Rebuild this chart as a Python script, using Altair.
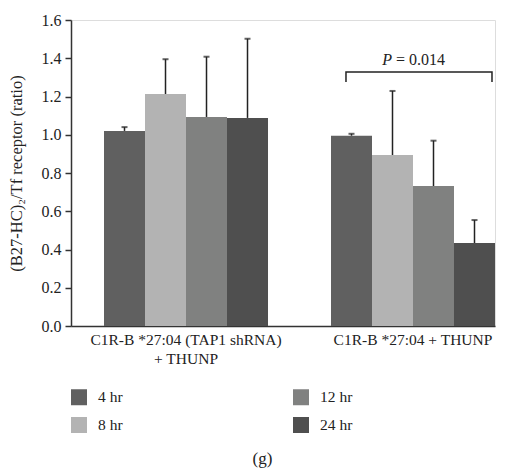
import altair as alt
import pandas as pd

groups = ["C1R-B *27:04 (TAP1 shRNA)|+ THUNP", "C1R-B *27:04 + THUNP"]
times = ["4 hr", "8 hr", "12 hr", "24 hr"]
colors = ["#606060", "#b3b3b3", "#808180", "#4f4f4f"]
means_g1 = [1.02, 1.213, 1.093, 1.088]
means_g2 = [0.995, 0.894, 0.732, 0.434]
upper_g1 = [1.04, 1.395, 1.408, 1.502]
upper_g2 = [1.005, 1.229, 0.969, 0.554]
y_ticks = [0.0, 0.2, 0.4, 0.6, 0.8, 1.0, 1.2, 1.4, 1.6]
bracket_ends = ["start", "start", "end", "end"]
bracket_y = [1.276, 1.328, 1.328, 1.276]
p_level = 1.39

FONT = "Liberation Serif"

rows = []
for g, means, ups in [(groups[0], means_g1, upper_g1), (groups[1], means_g2, upper_g2)]:
    for t, m, u in zip(times, means, ups):
        rows.append({"group": g, "time": t, "mean": m, "upper": u})
df = pd.DataFrame(rows)

bracket = pd.DataFrame({"group": [groups[1]] * 4, "end": bracket_ends,
                        "y": bracket_y, "ord": [0, 1, 2, 3]})
ptext = pd.DataFrame({"group": [groups[1]], "y": [p_level]})

x_axis = alt.Axis(title="(g)", labelExpr="split(datum.label, '|')", labelAngle=0,
                  ticks=False, labelPadding=6, labelFont=FONT, labelFontSize=15.5,
                  labelColor="#222", domainColor="#333", domainWidth=1.5,
                  labelLineHeight=19, labelLimit=400,
                  titleFont=FONT, titleFontSize=17, titleFontWeight="normal", titleColor="#222",
                  titlePadding=84, titleX=191, titleAnchor="middle")
x_enc = alt.X("group:N", sort=groups,
              scale=alt.Scale(domain=groups, paddingInner=0.2775, paddingOuter=0.0727, align=1),
              axis=x_axis)
xo_enc = alt.XOffset("time:N", sort=times,
                     scale=alt.Scale(domain=times, paddingInner=0, paddingOuter=0))
y_scale = alt.Scale(domain=[0, 1.6], nice=False)
y_axis = alt.Axis(title="(B27-HC)₂/Tf receptor (ratio)", values=y_ticks,
                  format=".1f", grid=False, tickSize=6, tickColor="#333", tickWidth=1.5,
                  domainColor="#333", domainWidth=1.5, labelFont=FONT, labelFontSize=16,
                  labelColor="#222", labelPadding=4, labelOverlap=False, titleFont=FONT,
                  titleFontSize=16.5, titleFontWeight="normal", titleColor="#222",
                  titlePadding=17)


def yq(field):
    return alt.Y(field, type="quantitative", scale=y_scale, axis=y_axis)


bars = alt.Chart(df).mark_bar(stroke=None).encode(
    x=x_enc,
    xOffset=xo_enc,
    y=yq("mean"),
    color=alt.Color("time:N", scale=alt.Scale(domain=times, range=colors),
                    legend=alt.Legend(title=None, orient="none", legendX=0, legendY=369, columns=2,
                                      columnPadding=170, rowPadding=11, symbolType="square",
                                      symbolSize=256, symbolStrokeWidth=0, labelFont=FONT,
                                      labelFontSize=15.5, labelColor="#222", labelOffset=11)),
)

err = alt.Chart(df).mark_rule(color="#222", strokeWidth=1.5).encode(
    x=x_enc, xOffset=xo_enc, y=yq("mean"), y2="upper:Q")
caps = alt.Chart(df).mark_tick(color="#222", orient="horizontal", size=6, thickness=2).encode(
    x=x_enc, xOffset=xo_enc, y=yq("upper"))

br = alt.Chart(bracket).mark_line(color="#222", strokeWidth=1.5).encode(
    x=x_enc,
    xOffset=alt.XOffset("end:N", sort=["start", "end"],
                        scale=alt.Scale(type="point", domain=["start", "end"], padding=0.0616, align=0.833)),
    y=yq("y"), order="ord:Q")

p1 = alt.Chart(ptext).mark_text(text="P", font=FONT, fontStyle="italic", fontSize=16,
                                align="right", dx=-21, color="#222").encode(
    x=x_enc, y=yq("y"))
p2 = alt.Chart(ptext).mark_text(text="= 0.014", font=FONT, fontSize=16,
                                align="left", dx=-17, color="#222").encode(
    x=x_enc, y=yq("y"))

chart = alt.layer(bars, err, caps, br, p1, p2).resolve_scale(xOffset="independent").properties(
    width=424, height=306,
    autosize=alt.AutoSizeParams(type="none"),
    padding={"left": 71, "top": 20, "right": 10, "bottom": 144},
).configure_view(stroke=None).configure(background="white")

chart.save("out.html", embed_options={"renderer": "svg", "actions": False})
